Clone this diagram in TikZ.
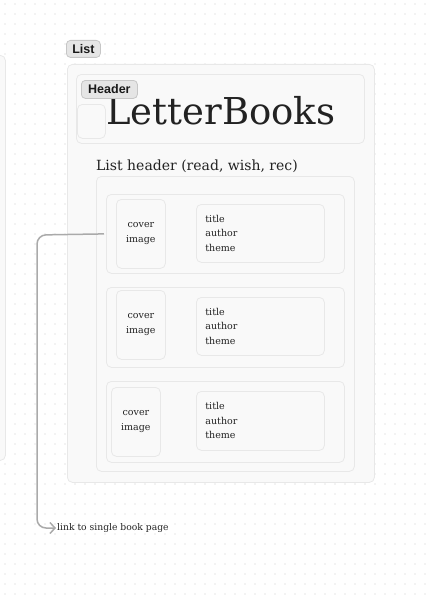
\documentclass[tikz,border=0pt]{standalone}
\usepackage{fontspec}
\setmainfont{DejaVu Serif}
\newfontfamily\tagfont{Liberation Sans}
\usetikzlibrary{arrows.meta}
\definecolor{dotc}{RGB}{205,205,205}
\definecolor{framef}{RGB}{249,249,249}
\definecolor{framed}{RGB}{232,232,232}
\definecolor{tagf}{RGB}{229,229,229}
\definecolor{tagd}{RGB}{198,198,198}
\definecolor{linkc}{RGB}{170,170,170}
\definecolor{textc}{RGB}{34,34,34}

\tikzset{
  frame/.style={draw=framed,fill=framef,rounded corners=5pt,line width=0.8pt,
    anchor=north west,inner sep=0pt},
  tagbox/.style={draw=tagd,fill=tagf,rounded corners=4pt,line width=0.8pt,anchor=north west,
    font=\tagfont\bfseries\fontsize{12.5}{14}\selectfont,text=black!90,inner sep=0pt},
  coverbox/.style={frame,align=center,text=textc,font=\fontsize{9.5}{15}\selectfont,
    minimum width=49pt,minimum height=69pt},
  infobox/.style={frame,align=left,text=textc,font=\fontsize{9.5}{14.5}\selectfont,
    text width=110pt,inner xsep=9pt,minimum height=58pt},
}

\begin{document}
\begin{tikzpicture}[x=1pt,y=-1pt,>=Latex]
\useasboundingbox (0,0) rectangle (426,602);

% dotted canvas
\foreach \x in {5,15,...,425}{\foreach \y in {4,14,...,600}{
  \fill[dotc] (\x,\y) circle (0.55pt);}}

% frame cut off at the left edge
\node[frame,minimum width=20pt,minimum height=405pt] (side) at (-15,55) {};

%================= List frame =================
\node[frame,minimum width=307pt,minimum height=418pt] (list) at (67,64) {};
\node[tagbox,minimum width=34pt,minimum height=17pt] (listtag) at (66,40) {List};

% --- header
\node[frame,minimum width=288pt,minimum height=69pt] (header) at (76,74) {};
\node[frame,minimum width=28pt,minimum height=34pt] (logo) at (77,104) {};
\node[anchor=base west,inner sep=0pt,text=textc,font=\fontsize{37}{38}\selectfont]
  (title) at (106,124) {LetterBooks};
\node[tagbox,minimum width=56pt,minimum height=18pt] (headertag) at (81,80) {Header};

% --- list header and books
\node[anchor=base west,inner sep=0pt,text=textc,font=\fontsize{14}{16}\selectfont]
  (listhead) at (96,170) {List header (read, wish, rec)};
\node[frame,minimum width=258pt,minimum height=295pt] (books) at (96,176) {};

\node[frame,minimum width=238pt,minimum height=79pt] (row1) at (106,194) {};
\node[coverbox] (cover1) at (116,199) {cover\\image};
\node[infobox] (info1) at (196,204) {title\\author\\theme};

\node[frame,minimum width=238pt,minimum height=80pt] (row2) at (106,287) {};
\node[coverbox] (cover2) at (116,290) {cover\\image};
\node[infobox] (info2) at (196,297) {title\\author\\theme};

\node[frame,minimum width=238pt,minimum height=81pt] (row3) at (106,381) {};
\node[coverbox] (cover3) at (111,387) {cover\\image};
\node[infobox,minimum height=59pt] (info3) at (196,391) {title\\author\\theme};

%================= link =================
\node[anchor=west,inner sep=0pt,text=textc,font=\fontsize{9.2}{10}\selectfont]
  (link) at (57,528) {link to single book page};
\coordinate (bend) at (37,235);
\draw[linkc,line width=1.5pt,rounded corners=9pt,-{Straight Barb[length=5pt,width=11pt]}]
  ([xshift=-2pt]row1.west) -- (bend) |- ([xshift=-1pt]link.west);
\end{tikzpicture}
\end{document}
